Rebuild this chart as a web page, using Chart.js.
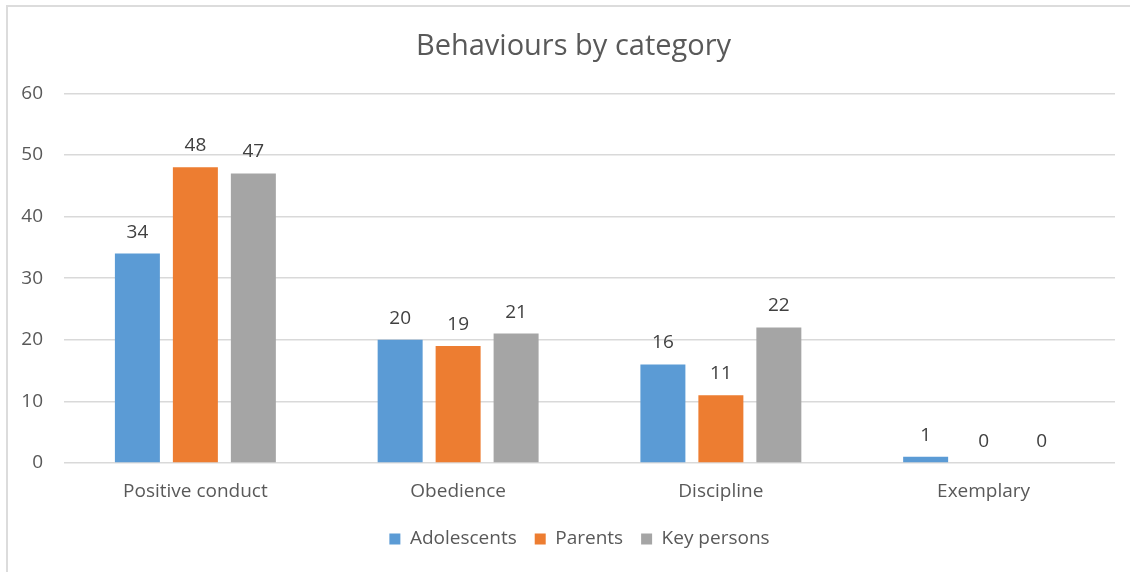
<!DOCTYPE html>
<html>
<head>
<meta charset="utf-8">
<script src="https://cdn.jsdelivr.net/npm/chart.js@4.4.1/dist/chart.umd.min.js"></script>
<style>
  html, body { margin: 0; padding: 0; background: #ffffff; }
  #wrap { position: absolute; left: 0; top: 0; width: 1130px; height: 572px; }
  #frame { position: absolute; left: 6px; top: 5px; right: 0; bottom: 0;
           border-top: 2px solid #dcdcdc; border-left: 2px solid #dcdcdc; }
  canvas { position: absolute; left: 0; top: 0; }
</style>
</head>
<body>
<div id="wrap">
  <div id="frame"></div>
  <canvas id="chart" width="1130" height="572"></canvas>
</div>
<script>
// Behaviour counts per category, by respondent group
const categories = ['Positive conduct', 'Obedience', 'Discipline', 'Exemplary'];
const adolescents = [34, 20, 16, 1];
const parents = [48, 19, 11, 0];
const keyPersons = [47, 21, 22, 0];
const seriesNames = ['Adolescents', 'Parents', 'Key persons'];
const yTicks = [0, 10, 20, 30, 40, 50, 60];

const FONT = "'Open Sans', 'Noto Sans', sans-serif";
const TEXT = '#595959';

// Writes each bar's value above it
const valueLabels = {
  id: 'valueLabels',
  afterDatasetsDraw(chart) {
    const ctx = chart.ctx;
    ctx.save();
    ctx.font = '19px ' + FONT;
    ctx.fillStyle = '#404040';
    ctx.textAlign = 'center';
    ctx.textBaseline = 'alphabetic';
    chart.data.datasets.forEach((ds, i) => {
      const meta = chart.getDatasetMeta(i);
      meta.data.forEach((bar, j) => {
        ctx.fillText(String(ds.data[j]), bar.x, bar.y - 16);
      });
    });
    ctx.restore();
  }
};

// Centres the title and legend a little to the right of the full width
const centreBoxes = {
  id: 'centreBoxes',
  afterLayout(chart) {
    const t = chart.titleBlock, l = chart.legend;
    if (t) { t.left += 16; t.right += 16; }
    if (l) { l.left += 22; l.right += 22; }
  }
};

new Chart(document.getElementById('chart'), {
  type: 'bar',
  data: {
    labels: categories,
    datasets: [
      { label: seriesNames[0], data: adolescents, backgroundColor: '#5B9BD5' },
      { label: seriesNames[1], data: parents, backgroundColor: '#ED7D31' },
      { label: seriesNames[2], data: keyPersons, backgroundColor: '#A5A5A5' }
    ]
  },
  options: {
    responsive: false,
    animation: false,
    devicePixelRatio: 1,
    layout: { padding: { left: 0, right: 15, top: 0, bottom: 13.5 } },
    datasets: {
      bar: { barPercentage: 0.776, categoryPercentage: 0.662 }
    },
    plugins: {
      title: {
        display: true,
        text: 'Behaviours by category',
        color: TEXT,
        font: { family: FONT, size: 29, weight: 'normal' },
        padding: { top: 29, bottom: 29.5 }
      },
      legend: {
        position: 'bottom',
        labels: {
          color: TEXT,
          font: { family: FONT, size: 19 },
          boxWidth: 11,
          boxHeight: 11,
          padding: 18
        }
      },
      tooltip: { enabled: false }
    },
    scales: {
      x: {
        afterFit(scale) { scale.height = 48.5; },
        grid: { display: false, drawTicks: false },
        border: { display: false },
        ticks: { color: TEXT, font: { family: FONT, size: 19 }, padding: 17 }
      },
      y: {
        min: 0,
        max: 60,
        afterBuildTicks(scale) { scale.ticks = yTicks.map(v => ({ value: v })); },
        afterFit(scale) { scale.width = 64; },
        grid: { color: '#d9d9d9', lineWidth: 1.5, drawTicks: false },
        border: { display: false },
        ticks: { color: TEXT, font: { family: FONT, size: 19 }, padding: 21 }
      }
    }
  },
  plugins: [valueLabels, centreBoxes]
});
</script>
</body>
</html>
